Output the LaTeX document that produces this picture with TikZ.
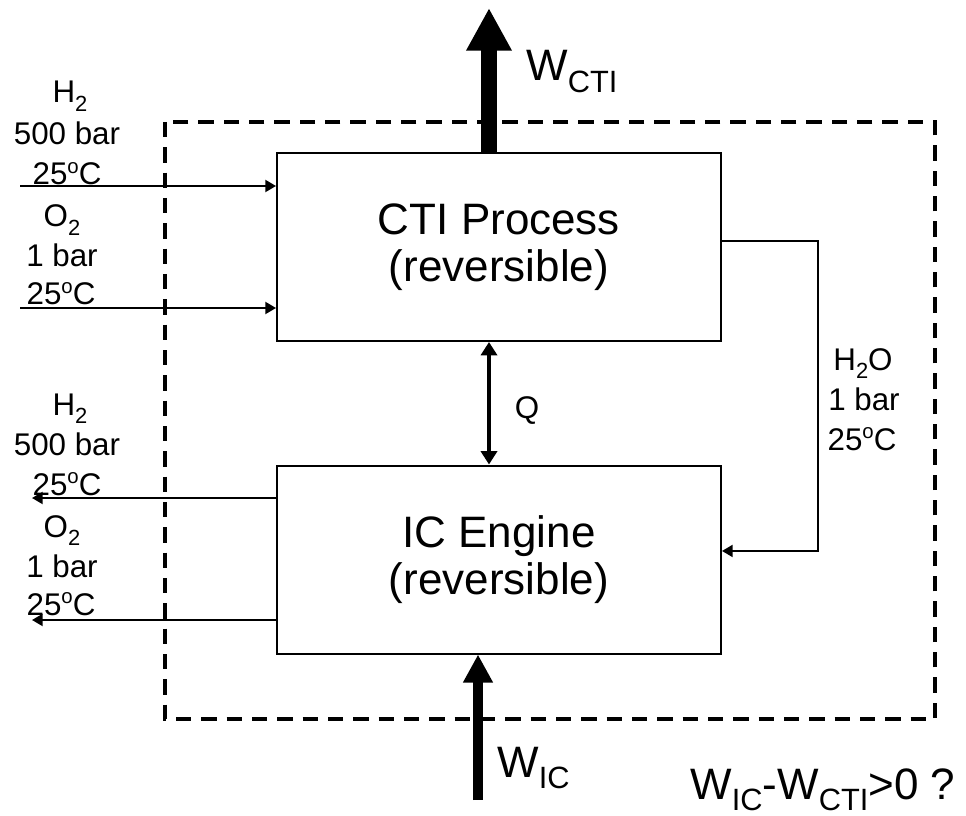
\documentclass[tikz,border=0pt]{standalone}
\usepackage{fontspec}
\setmainfont{Liberation Sans}
\usetikzlibrary{arrows.meta, calc}

\newcommand{\lowsub}[1]{\raisebox{-0.26em}{\scalebox{0.7}{#1}}}
\newcommand{\degsup}{\raisebox{0.36em}{\scalebox{0.65}{o}}}

\tikzset{
  unit/.style={draw, line width=1.5pt, minimum width=333pt, minimum height=141pt,
    align=center, font=\fontsize{33}{35}\selectfont},
  big/.style={anchor=base, inner sep=0pt, font=\fontsize{33}{40}\selectfont},
  lab/.style={anchor=base, inner sep=0pt, font=\fontsize{23.5}{28}\selectfont},
  flow/.style={line width=1.5pt, -{Triangle[width=9pt, length=8pt]}},
}

\begin{document}
\begin{tikzpicture}[x=0.75pt, y=-0.75pt]
\useasboundingbox (0,0) rectangle (966,816);

% Frontera del sistema
\draw[line width=3pt, dash pattern=on 11.5pt off 7.5pt] (165,122) rectangle (935,719);

% Procesos
\node[unit] (cti) at (499,247) {CTI Process\\(reversible)};
\node[unit] (ic) at (499,559.5) {IC Engine\\(reversible)};

% Puntos auxiliares
\coordinate (wcti) at (489,8);
\coordinate (wic) at (478,800);
\coordinate (q) at (489,0);
\coordinate (loop) at (818,0);
\coordinate (in1) at (20,186);
\coordinate (in2) at (20,308);
\coordinate (out1) at (32,498);
\coordinate (out2) at (32,620);

% Trabajo
\draw[line width=12pt, -{Triangle[width=32pt, length=32pt]}] (wcti |- cti.north) -- (wcti);
\draw[line width=8pt, -{Triangle[width=21pt, length=21pt]}] (wic) -- (wic |- ic.south);

% Calor
\draw[line width=3pt, {Triangle[width=12pt, length=10pt]}-{Triangle[width=12pt, length=10pt]}]
  (q |- cti.south) -- (q |- ic.north);
\node[lab] (qlab) at (527,418) {Q};

% Corrientes de entrada
\draw[flow] (in1) -- (in1 -| cti.west);
\draw[flow] (in2) -- (in2 -| cti.west);

% Corrientes de salida
\draw[flow] (out1 -| ic.west) -- (out1);
\draw[flow] (out2 -| ic.west) -- (out2);

% Agua
\draw[flow] ([yshift=4.5pt]cti.east) -- ([yshift=4.5pt]cti.east -| loop)
  -- ([yshift=6.4pt]ic.east -| loop) -- ([yshift=6.4pt]ic.east);

% Etiquetas de entrada
\node[lab] (h2in) at (70,103) {H\lowsub{2}};
\node[lab] (p2in) at (67,145) {500 bar};
\node[lab] (t2in) at (67,185) {25\degsup C};
\node[lab] (o2in) at (62,227) {O\lowsub{2}};
\node[lab] (p3in) at (62,267) {1 bar};
\node[lab] (t3in) at (61,305) {25\degsup C};

% Etiquetas de salida
\node[lab] (h2out) at (70,415) {H\lowsub{2}};
\node[lab] (p2out) at (67,455) {500 bar};
\node[lab] (t2out) at (67,495) {25\degsup C};
\node[lab] (o2out) at (62,537) {O\lowsub{2}};
\node[lab] (p3out) at (62,577) {1 bar};
\node[lab] (t3out) at (61,615) {25\degsup C};

% Etiqueta del agua
\node[lab] (h2o) at (863,370) {H\lowsub{2}O};
\node[lab] (pw) at (864,410) {1 bar};
\node[lab] (tw) at (862,450) {25\degsup C};

% Etiquetas de trabajo
\node[big, anchor=base west] (wctilab) at (526,81) {W\lowsub{CTI}};
\node[big, anchor=base west] (wiclab) at (497,777) {W\lowsub{IC}};
\node[big, anchor=base west] (cmp) at (690,799) {W\lowsub{IC}-W\lowsub{CTI}>0 ?};

\end{tikzpicture}
\end{document}
